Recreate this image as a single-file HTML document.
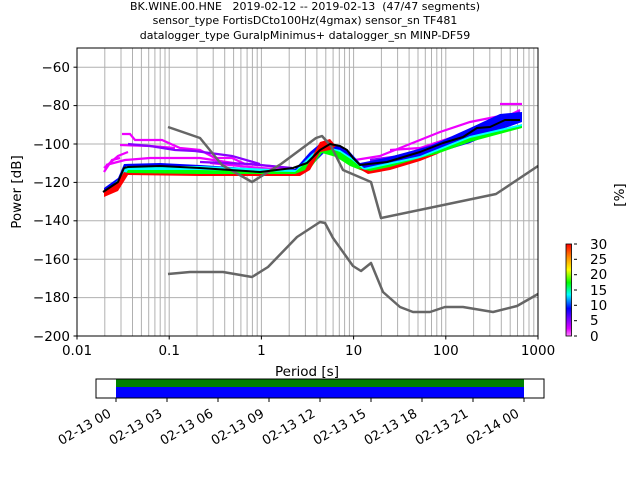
<!DOCTYPE html>
<html><head><meta charset="utf-8"><style>
html,body{margin:0;padding:0;background:#fff;}
svg{display:block;font-family:"DejaVu Sans","Liberation Sans",sans-serif;}
</style></head><body>
<svg width="640" height="480" viewBox="0 0 640 480" xmlns="http://www.w3.org/2000/svg">
<rect width="640" height="480" fill="#fff"/>
<g font-size="11" text-anchor="middle" fill="#000">
<text x="305" y="10">BK.WINE.00.HNE&#160;&#160; 2019-02-12 -- 2019-02-13&#160; (47/47 segments)</text>
<text x="305" y="24">sensor_type FortisDCto100Hz(4gmax) sensor_sn TF481</text>
<text x="305" y="39">datalogger_type GuralpMinimus+ datalogger_sn MINP-DF59</text>
</g>
<!-- grid -->
<g stroke="#b0b0b0" stroke-width="1">
<line x1="77" y1="67.2" x2="538" y2="67.2"/><line x1="77" y1="105.6" x2="538" y2="105.6"/><line x1="77" y1="144" x2="538" y2="144"/><line x1="77" y1="182.4" x2="538" y2="182.4"/><line x1="77" y1="220.8" x2="538" y2="220.8"/><line x1="77" y1="259.2" x2="538" y2="259.2"/><line x1="77" y1="297.6" x2="538" y2="297.6"/>
<g id="dec">
<line x1="104.8" y1="48" x2="104.8" y2="336"/><line x1="121" y1="48" x2="121" y2="336"/><line x1="132.5" y1="48" x2="132.5" y2="336"/><line x1="141.4" y1="48" x2="141.4" y2="336"/><line x1="148.7" y1="48" x2="148.7" y2="336"/><line x1="154.9" y1="48" x2="154.9" y2="336"/><line x1="160.2" y1="48" x2="160.2" y2="336"/><line x1="165" y1="48" x2="165" y2="336"/><line x1="169.2" y1="48" x2="169.2" y2="336"/>
</g>
<use href="#dec" x="92.2"/><use href="#dec" x="184.4"/><use href="#dec" x="276.6"/><use href="#dec" x="368.8"/>
</g>
<!-- PPSD cloud: sparse strips -->
<g stroke-width="2.2" fill="none">
<g stroke="#ee00ff">
<polyline points="104,172 112,160 120,158"/><polyline points="104,168 118,156 128,152"/>
<polyline points="122,134 130,134 135,140 162,140 180,148 200,150 215,158 232,158 245,164 270,166 285,168"/>
<polyline points="120,145 150,146 175,148"/><polyline points="106,165 125,160 150,158 200,158 240,164"/>
<polyline points="210,163 260,168 290,170"/>
<polyline points="355,160 380,156 400,148 420,140 440,132 470,122 500,116 520,114"/>
<polyline points="390,150 420,148 450,138 480,130 520,110"/>
<polyline points="500,104 522,104"/><polyline points="505,118 522,118"/>
</g>
<g stroke="#8800ff">
<polyline points="128,144 150,146 175,150 195,151 232,156 260,164"/>
<polyline points="200,162 250,164 292,168"/>
<polyline points="370,160 400,156 430,146 460,136 490,124 520,112"/>
</g>
</g>
<g>
<polygon fill="#0000ff" points="104,188 118,178 124,164 160,163 200,165 280,170 295,169 310,152 322,142 335,144 350,152 360,163 385,158 430,146 470,128 500,114 522,112 522,122 505,128 470,143 440,152 410,160 380,166 360,170 346,156 338,150 325,152 312,165 300,172 200,172 128,170 118,184 104,194"/>
<polygon fill="#00ffff" points="120,178 126,166 200,166 296,170 312,154 322,146 340,150 355,160 364,168 420,156 470,136 522,124 522,127 470,140 420,158 368,172 350,165 336,156 322,152 310,168 300,174 200,174 128,172 118,186 104,193"/>
<polygon fill="#00ff00" points="122,180 128,170 200,170 295,172 312,158 325,147 340,152 352,160 364,170 420,158 470,138 522,126 522,128 470,142 420,160 368,173 350,166 336,157 322,153 310,169 300,175 200,175 128,174 118,188 104,195"/>
<polygon fill="#ff0000" points="104,190 118,182 124,172 128,173 200,174 295,174 305,170 320,142 330,139 336,146 330,150 320,152 310,170 300,176 200,176 128,175 118,191 104,197"/>
<polygon fill="#ff0000" points="358,168 370,171 390,167 420,158 440,153 420,161 390,170 368,174"/>
</g>
<!-- noise models -->
<g fill="none" stroke="#666" stroke-width="2.5" stroke-linejoin="round">
<polyline points="168,127 200,138 222,165 252,182 281,164 316,138 322,136 331,146 343,170 371,182 381,218 496,194 538,166"/>
<polyline points="168,274 190,272 223,272 252,277 268,267 297,237 320,222 325,223 333,238 353,266 361,271 371,263 383,292 400,307 413,312 430,312 445,307 463,307 493,312 517,306 538,294"/>
</g>
<polyline fill="none" stroke="#000" stroke-width="2" stroke-linejoin="round" points="103,192 118,182 124,168 128,167 160,166 200,168 260,172 293,168 307,163 320,150 330,144 340,146 347,150 353,158 360,165 387,162 420,152 443,143 463,137 477,128 490,127 505,120 520,120"/>
<!-- axes frame -->
<rect x="77" y="48" width="461" height="288" fill="none" stroke="#000" stroke-width="1"/>
<g stroke="#000"><line x1="77" y1="67.2" x2="73.5" y2="67.2"/><line x1="77" y1="105.6" x2="73.5" y2="105.6"/><line x1="77" y1="144" x2="73.5" y2="144"/><line x1="77" y1="182.4" x2="73.5" y2="182.4"/><line x1="77" y1="220.8" x2="73.5" y2="220.8"/><line x1="77" y1="259.2" x2="73.5" y2="259.2"/><line x1="77" y1="297.6" x2="73.5" y2="297.6"/><line x1="77" y1="336" x2="73.5" y2="336"/>
<line x1="77" y1="336" x2="77" y2="339.5"/><line x1="169.2" y1="336" x2="169.2" y2="339.5"/><line x1="261.4" y1="336" x2="261.4" y2="339.5"/><line x1="353.6" y1="336" x2="353.6" y2="339.5"/><line x1="445.8" y1="336" x2="445.8" y2="339.5"/><line x1="538" y1="336" x2="538" y2="339.5"/></g>
<g font-size="13.5" fill="#000" text-anchor="end">
<text x="70" y="72">−60</text><text x="70" y="110">−80</text><text x="70" y="149">−100</text><text x="70" y="187">−120</text><text x="70" y="225">−140</text><text x="70" y="264">−160</text><text x="70" y="302">−180</text><text x="70" y="341">−200</text>
</g>
<g font-size="13.5" fill="#000" text-anchor="middle">
<text x="77" y="355">0.01</text><text x="169.2" y="355">0.1</text><text x="261.4" y="355">1</text><text x="353.6" y="355">10</text><text x="445.8" y="355">100</text><text x="538" y="355">1000</text>
<text x="307" y="376">Period [s]</text>
<text transform="translate(21,192) rotate(-90)">Power [dB]</text>
<text transform="translate(624,195) rotate(-90)">[%]</text>
</g>
<!-- colorbar -->
<defs><linearGradient id="cb" x1="0" y1="1" x2="0" y2="0">
<stop offset="0" stop-color="#ff80ff"/><stop offset="0.08" stop-color="#dd00ff"/><stop offset="0.2" stop-color="#6600ff"/><stop offset="0.3" stop-color="#0000ff"/><stop offset="0.45" stop-color="#00ffff"/><stop offset="0.58" stop-color="#00ff00"/><stop offset="0.72" stop-color="#ffff00"/><stop offset="0.86" stop-color="#ff8800"/><stop offset="1" stop-color="#ff0000"/>
</linearGradient></defs>
<rect x="566" y="244" width="5.5" height="92" fill="url(#cb)" stroke="#000" stroke-width="0.8"/>
<g stroke="#000"><line x1="574" y1="244" x2="577" y2="244"/><line x1="574" y1="259.3" x2="577" y2="259.3"/><line x1="574" y1="274.7" x2="577" y2="274.7"/><line x1="574" y1="290" x2="577" y2="290"/><line x1="574" y1="305.3" x2="577" y2="305.3"/><line x1="574" y1="320.7" x2="577" y2="320.7"/><line x1="574" y1="336" x2="577" y2="336"/></g>
<g font-size="13.5" fill="#000"><text x="590" y="249">30</text><text x="590" y="264">25</text><text x="590" y="279">20</text><text x="590" y="295">15</text><text x="590" y="310">10</text><text x="590" y="325">5</text><text x="590" y="341">0</text></g>
<!-- timeline -->
<rect x="116" y="379" width="408" height="8" fill="#008000"/>
<rect x="116" y="387" width="408" height="11" fill="#0000ff"/>
<rect x="96" y="379" width="448" height="19" fill="none" stroke="#000" stroke-width="1"/>
<g stroke="#000"><line x1="116" y1="398" x2="116" y2="402"/><line x1="167" y1="398" x2="167" y2="402"/><line x1="218" y1="398" x2="218" y2="402"/><line x1="269" y1="398" x2="269" y2="402"/><line x1="320" y1="398" x2="320" y2="402"/><line x1="371" y1="398" x2="371" y2="402"/><line x1="422" y1="398" x2="422" y2="402"/><line x1="473" y1="398" x2="473" y2="402"/><line x1="524" y1="398" x2="524" y2="402"/></g>
<g font-size="13" fill="#000" text-anchor="end">
<text transform="translate(112,416) rotate(-30)">02-13 00</text>
<text transform="translate(163,416) rotate(-30)">02-13 03</text>
<text transform="translate(214,416) rotate(-30)">02-13 06</text>
<text transform="translate(265,416) rotate(-30)">02-13 09</text>
<text transform="translate(316,416) rotate(-30)">02-13 12</text>
<text transform="translate(367,416) rotate(-30)">02-13 15</text>
<text transform="translate(418,416) rotate(-30)">02-13 18</text>
<text transform="translate(469,416) rotate(-30)">02-13 21</text>
<text transform="translate(520,416) rotate(-30)">02-14 00</text>
</g>
</svg>
</body></html>
